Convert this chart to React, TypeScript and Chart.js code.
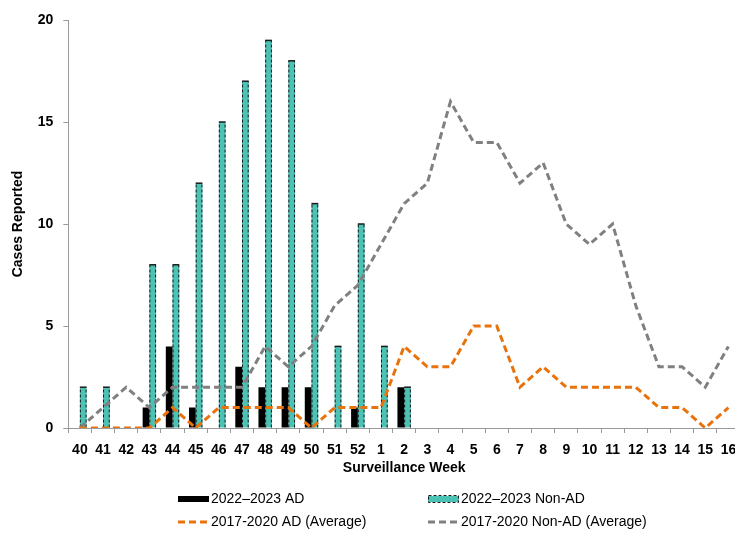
import React, { useEffect, useRef } from "react";
import { Chart, registerables } from "chart.js";
Chart.register(...registerables);

const weeks = ["40","41","42","43","44","45","46","47","48","49","50","51","52","1","2","3","4","5","6","7","8","9","10","11","12","13","14","15","16"];
const adCurrent = [0,0,0,1,4,1,0,3,2,2,2,0,1,0,2,null,null,null,null,null,null,null,null,null,null,null,null,null,null];
const nonAdCurrent = [2,2,0,8,8,12,15,17,19,18,11,4,10,4,2,null,null,null,null,null,null,null,null,null,null,null,null,null,null];
const adAverage = [0,0,0,0,1,0,1,1,1,1,0,1,1,1,4,3,3,5,5,2,3,2,2,2,2,1,1,0,1];
const nonAdAverage = [0,1,2,1,2,2,2,2,4,3,4,6,7,9,11,12,16,14,14,12,13,10,9,10,6,3,3,2,4];
const yTicks = [0,5,10,15,20];

const seriesLabels = ["2022\u20132023 AD","2022\u20132023 Non-AD","2017-2020 AD (Average)","2017-2020 Non-AD (Average)"];

const FONT = '"Liberation Sans Narrow", "Arial Narrow", "Liberation Sans", Arial, sans-serif';
const TEAL = "#4CC2B5";
const ORANGE = "#E8720C";
const GRAY = "#808080";
const AXIS = "#9a9a9a";

const barOutline = {
  id: "barOutline",
  afterDatasetDraw(chart: any, args: any) {
    if (args.index !== 1) return;
    const ctx = chart.ctx;
    ctx.save();
    args.meta.data.forEach((el: any, i: number) => {
      const v = chart.data.datasets[1].data[i];
      if (!v) return;
      const { x, y, base, width } = el.getProps(["x","y","base","width"], true);
      const l = x - width / 2 + 0.5;
      const r = x + width / 2 - 0.5;
      ctx.strokeStyle = "#1a1a1a";
      ctx.lineWidth = 1;
      ctx.setLineDash([3, 2]);
      ctx.beginPath();
      ctx.moveTo(l, base); ctx.lineTo(l, y);
      ctx.moveTo(r, base); ctx.lineTo(r, y);
      ctx.stroke();
      ctx.setLineDash([]);
      ctx.lineWidth = 1.5;
      ctx.beginPath();
      ctx.moveTo(l - 0.5, y); ctx.lineTo(r + 0.5, y);
      ctx.stroke();
    });
    ctx.restore();
  },
};

const customLegend = {
  id: "customLegend",
  afterDraw(chart: any) {
    const ctx = chart.ctx;
    ctx.save();
    ctx.font = `14px ${FONT}`;
    ctx.textBaseline = "middle";
    ctx.textAlign = "left";
    const r1 = 491, r2 = 514;
    const c1 = 170, c2 = 420;
    ctx.fillStyle = "#000";
    ctx.fillRect(c1, r1 - 3, 31, 6);
    ctx.fillStyle = TEAL;
    ctx.fillRect(c2, r1 - 3, 31, 6);
    ctx.strokeStyle = "#1a1a1a";
    ctx.lineWidth = 1;
    ctx.setLineDash([3, 2]);
    ctx.strokeRect(c2 + 0.5, r1 - 3.5, 30, 7);
    ctx.setLineDash([]);
    ctx.lineWidth = 3;
    ctx.setLineDash([7, 4]);
    ctx.strokeStyle = ORANGE;
    ctx.beginPath(); ctx.moveTo(c1, r2); ctx.lineTo(c1 + 30, r2); ctx.stroke();
    ctx.strokeStyle = GRAY;
    ctx.beginPath(); ctx.moveTo(c2, r2); ctx.lineTo(c2 + 30, r2); ctx.stroke();
    ctx.setLineDash([]);
    ctx.fillStyle = "#000";
    ctx.fillText(seriesLabels[0], c1 + 33, r1);
    ctx.fillText(seriesLabels[1], c2 + 33, r1);
    ctx.fillText(seriesLabels[2], c1 + 33, r2);
    ctx.fillText(seriesLabels[3], c2 + 33, r2);
    ctx.restore();
  },
};

export default function App() {
  const ref = useRef<HTMLCanvasElement | null>(null);
  useEffect(() => {
    const prevMargin = document.body.style.margin;
    document.body.style.margin = "0";
    if (!ref.current) return;
    const chart = new Chart(ref.current, {
      type: "bar",
      data: {
        labels: weeks,
        datasets: [
          { type: "bar", label: seriesLabels[0], data: adCurrent, backgroundColor: "#000", borderWidth: 0, order: 2, categoryPercentage: 0.58, barPercentage: 1.0 } as any,
          { type: "bar", label: seriesLabels[1], data: nonAdCurrent, backgroundColor: TEAL, borderWidth: 0, order: 2, categoryPercentage: 0.58, barPercentage: 1.0 } as any,
          { type: "line", label: seriesLabels[2], data: adAverage, borderColor: ORANGE, borderWidth: 3, borderDash: [7, 4], pointRadius: 0, tension: 0, fill: false, order: 1 } as any,
          { type: "line", label: seriesLabels[3], data: nonAdAverage, borderColor: GRAY, borderWidth: 3, borderDash: [7, 4], pointRadius: 0, tension: 0, fill: false, order: 1 } as any,
        ],
      },
      options: {
        responsive: false,
        animation: false,
        layout: { padding: { left: 0, right: 8, top: 12, bottom: 56 } },
        plugins: { legend: { display: false }, tooltip: { enabled: false } },
        scales: {
          x: {
            offset: true,
            grid: { display: true, drawOnChartArea: false, tickLength: 5, color: AXIS, offset: true },
            border: { color: AXIS, width: 1 },
            ticks: { color: "#000", font: { family: FONT, size: 14, weight: "bold" }, padding: 9, maxRotation: 0, autoSkip: false },
            title: { display: true, text: "Surveillance Week", color: "#000", font: { family: FONT, size: 14, weight: "bold" }, padding: 0 },
            afterFit: (s: any) => { s.height = 49; s.paddingLeft = 0; s.paddingRight = 0; },
          },
          y: {
            min: 0,
            max: 20,
            afterBuildTicks: (s: any) => { s.ticks = yTicks.map((v) => ({ value: v })); },
            grid: { display: true, drawOnChartArea: false, tickLength: 5, color: AXIS },
            border: { color: AXIS, width: 1 },
            ticks: { color: "#000", font: { family: FONT, size: 14, weight: "bold" }, padding: 10 },
            title: { display: true, text: "Cases Reported", color: "#000", font: { family: FONT, size: 14, weight: "bold" }, padding: { top: 2, bottom: 0 } },
            afterFit: (s: any) => { s.width = 60.3; s.paddingTop = 0; s.paddingBottom = 0; },
          },
        },
      } as any,
      plugins: [barOutline, customLegend],
    });
    return () => {
      chart.destroy();
      document.body.style.margin = prevMargin;
    };
  }, []);
  return (
    <div style={{ width: 735, height: 533, overflow: "hidden", boxSizing: "border-box", paddingLeft: 8, paddingTop: 8 }}>
      <canvas ref={ref} width={740} height={525} style={{ display: "block" }} />
    </div>
  );
}
